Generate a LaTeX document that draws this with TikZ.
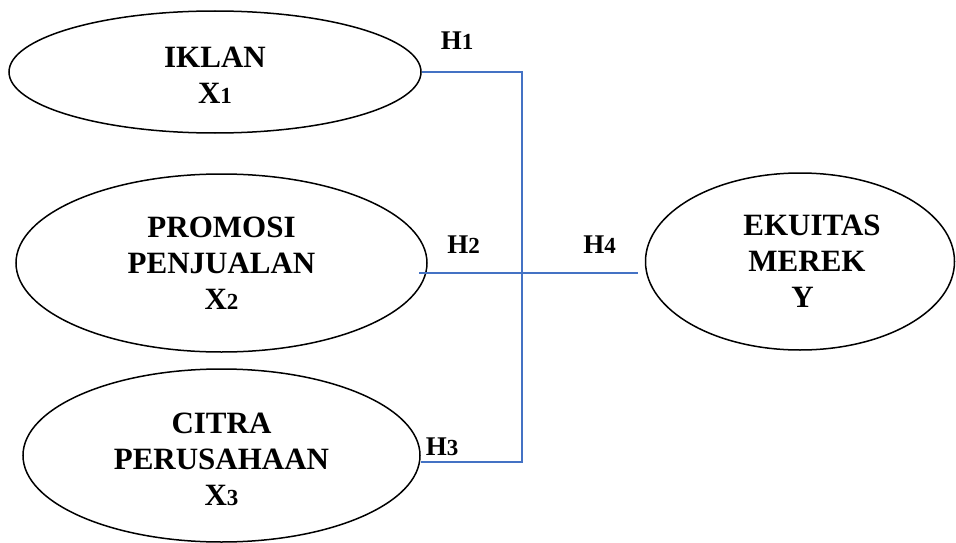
\documentclass[tikz,border=0pt]{standalone}
\usepackage{fontspec}
\setmainfont{Liberation Serif}
\usetikzlibrary{shapes.geometric}
\definecolor{linkblue}{HTML}{4472C4}
\newcommand{\sdig}[1]{{\fontsize{23}{23}\selectfont #1}}
\newcommand{\topstrut}[1]{\rule{0pt}{#1}}
\begin{document}
\begin{tikzpicture}[x=1pt,y=-1pt,
  varnode/.style={draw=black,line width=1.5pt,ellipse,inner sep=0pt,align=center,
    font=\fontsize{31}{36}\selectfont\bfseries},
  hlabel/.style={inner sep=0pt,anchor=base,font=\fontsize{27}{27}\selectfont\bfseries},
  link/.style={draw=linkblue,line width=1.6pt}]
\useasboundingbox (0,0) rectangle (956,543);
\node[varnode,minimum width=412pt,minimum height=122pt] (x1) at (215,72) {\topstrut{26pt}IKLAN\\X\sdig{1}};
\node[varnode,minimum width=411pt,minimum height=178pt] (x2) at (221.5,263) {PROMOSI\\PENJUALAN\\X\sdig{2}};
\node[varnode,minimum width=397pt,minimum height=173pt] (x3) at (221.5,455.5) {\topstrut{28pt}CITRA\\PERUSAHAAN\\X\sdig{3}};
\node[varnode,minimum width=309pt,minimum height=177pt] (y) at (800,261.5) {\hspace*{24pt}EKUITAS\\\hspace*{14pt}MEREK\\\hspace*{5pt}Y};
\coordinate (j1) at (522,72);
\coordinate (j3) at (522,462);
\coordinate (s2) at (419,273);
\coordinate (e4) at (638,273);
\draw[link] (x1.east) -- (j1) -- (j3) -- (x3.east |- j3);
\draw[link] (s2) -- (e4);
\node[hlabel] (h1) at (457,50) {H\sdig{1}};
\node[hlabel] (h2) at (463.5,253) {H\sdig{2}};
\node[hlabel] (h4) at (599.5,253) {H\sdig{4}};
\node[hlabel] (h3) at (442,455) {H\sdig{3}};
\end{tikzpicture}
\end{document}
